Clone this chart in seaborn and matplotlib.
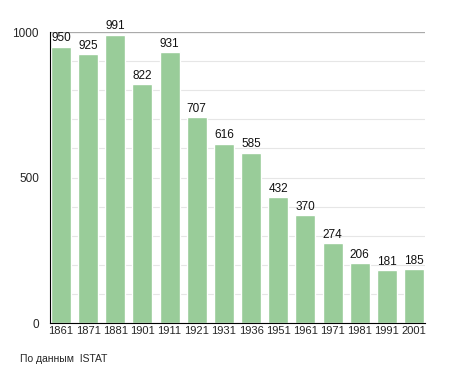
import numpy as np
import pandas as pd
import matplotlib
matplotlib.use("Agg")
import matplotlib.pyplot as plt
import seaborn as sns
from matplotlib.ticker import MultipleLocator

years = ["1861", "1871", "1881", "1901", "1911", "1921", "1931",
         "1936", "1951", "1961", "1971", "1981", "1991", "2001"]
population = [950, 925, 991, 822, 931, 707, 616, 585, 432, 370, 274, 206, 181, 185]

df = pd.DataFrame({"year": years, "population": population})

sns.set_style("white")
plt.rcParams["font.family"] = ["Liberation Sans", "DejaVu Sans"]

fig = plt.figure(figsize=(4.55, 3.73), dpi=100)
ax = fig.add_axes([0.11, 0.134, 0.824, 0.78])

sns.barplot(data=df, x="year", y="population", color="#99cc99",
            saturation=1, width=0.74, ax=ax, zorder=2)

# labels above bars
for i, v in enumerate(population):
    ax.text(i, v + 8, str(v), ha="center", va="bottom", fontsize=8.5, color="#111111")

ax.set_ylim(0, 1000)
ax.set_xlim(-0.4, len(years) - 0.6)
ax.yaxis.set_major_locator(MultipleLocator(500))
ax.yaxis.set_minor_locator(MultipleLocator(100))
ax.grid(axis="y", which="both", color="#e6e6e6", linewidth=0.8, zorder=0)
ax.axhline(1000, color="#aaaaaa", linewidth=0.9, zorder=1)

for s in ["top", "right"]:
    ax.spines[s].set_visible(False)
ax.spines["left"].set_color("black")
ax.spines["bottom"].set_color("black")

ax.tick_params(axis="y", which="major", direction="out", length=0, labelsize=8.5, pad=8)
ax.tick_params(axis="y", which="minor", direction="in", length=3, color="black")
ax.tick_params(axis="x", length=0, labelsize=8, pad=2)
ax.set_xlabel("")
ax.set_ylabel("")

fig.text(0.044, 0.025, "По данным  ISTAT", fontsize=7.5, ha="left", va="bottom")

fig.savefig("out.png", dpi=100)
